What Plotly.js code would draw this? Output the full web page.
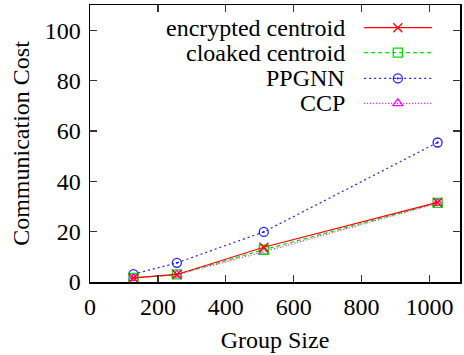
<!DOCTYPE html>
<html>
<head>
<meta charset="utf-8">
<script src="https://cdn.plot.ly/plotly-3.0.1.min.js"></script>
<style>html,body{margin:0;padding:0;background:#fff}#chart{width:464px;height:355px}</style>
</head>
<body>
<div id="chart"></div>
<script>
// ---- data ----
const groupSize = [128, 256, 512, 1024];
const encryptedCentroid = [1.6, 3.0, 13.8, 31.6];
const cloakedCentroid = [1.6, 3.0, 12.8, 31.4];
const ppgnn = [3.1, 7.6, 19.9, 55.4];
const ccp = [1.5, 2.9, 12.0, 31.3];
const seriesNames = ["encrypted centroid", "cloaked centroid", "PPGNN", "CCP"];
const xTicks = [0, 200, 400, 600, 800, 1000];
const yTicks = [0, 20, 40, 60, 80, 100];

// ---- styles ----
const FONT = "Liberation Serif";
const FS = 24;
const styles = [
  {color: "#ff0000", dash: "solid", symbol: "x-thin-open", size: 9},
  {color: "#00e000", dash: "4px,3px", symbol: "square-open", size: 9},
  {color: "#2020ff", dash: "2px,3px", symbol: "circle-open-dot", size: 9},
  {color: "#ff00ff", dash: "1px,2px", symbol: "triangle-up-open", size: 9}
];
const seriesData = [encryptedCentroid, cloakedCentroid, ppgnn, ccp];

function lineStyle(i) { return {color: styles[i].color, width: 1.2, dash: styles[i].dash}; }
function markerStyle(i) {
  return {symbol: styles[i].symbol, size: styles[i].size, color: styles[i].color,
          line: {color: styles[i].color, width: 1.3}};
}

const traces = [];
[2, 3, 1, 0].forEach(i => {
  traces.push({
    x: groupSize, y: seriesData[i], type: "scatter", mode: "lines+markers",
    name: seriesNames[i], showlegend: false,
    line: lineStyle(i), marker: markerStyle(i)
  });
});

// manual legend (text left, sample right) on a hidden overlay axis
const legRows = [0.918, 0.828, 0.735, 0.645];
const legX0 = 0.741, legX1 = 0.924, legXm = 0.832, legTextX = 0.695;
const annotations = [];
seriesNames.forEach((nm, i) => {
  traces.push({
    x: [legX0, legX1], y: [legRows[i], legRows[i]],
    xaxis: "x2", yaxis: "y2", type: "scatter", mode: "lines",
    showlegend: false, hoverinfo: "skip", line: lineStyle(i)
  });
  traces.push({
    x: [legXm], y: [legRows[i]],
    xaxis: "x2", yaxis: "y2", type: "scatter", mode: "markers",
    showlegend: false, hoverinfo: "skip", marker: markerStyle(i)
  });
  annotations.push({
    xref: "paper", yref: "paper", x: legTextX, y: legRows[i],
    xanchor: "right", yanchor: "middle", showarrow: false,
    text: nm, font: {family: FONT, size: FS, color: "#000"}
  });
});

const axisCommon = {
  showgrid: false, zeroline: false, showline: true, linecolor: "#000", linewidth: 1.5,
  mirror: "allticks", ticks: "inside", ticklen: 7, tickwidth: 1.3, tickcolor: "#333",
  tickfont: {family: FONT, size: FS, color: "#000"}
};

const layout = {
  width: 464, height: 355,
  margin: {l: 90, r: 4, t: 5, b: 73},
  paper_bgcolor: "#fff", plot_bgcolor: "#fff",
  showlegend: false,
  font: {family: FONT, color: "#000"},
  xaxis: Object.assign({}, axisCommon, {
    range: [0, 1090], tickvals: xTicks, ticktext: xTicks.map(String),
    ticklabelstandoff: 3,
    title: {text: "Group Size", font: {family: FONT, size: FS, color: "#000"}, standoff: 12}
  }),
  yaxis: Object.assign({}, axisCommon, {
    range: [0, 110], tickvals: yTicks, ticktext: yTicks.map(String),
    ticklabelstandoff: 3,
    title: {text: "Communication Cost", font: {family: FONT, size: FS, color: "#000"}, standoff: 8}
  }),
  xaxis2: {overlaying: "x", range: [0, 1], visible: false, anchor: "y2", fixedrange: true},
  yaxis2: {overlaying: "y", range: [0, 1], visible: false, anchor: "x2", fixedrange: true},
  annotations: annotations
};

Plotly.newPlot("chart", traces, layout, {staticPlot: true, displayModeBar: false});
</script>
</body>
</html>
